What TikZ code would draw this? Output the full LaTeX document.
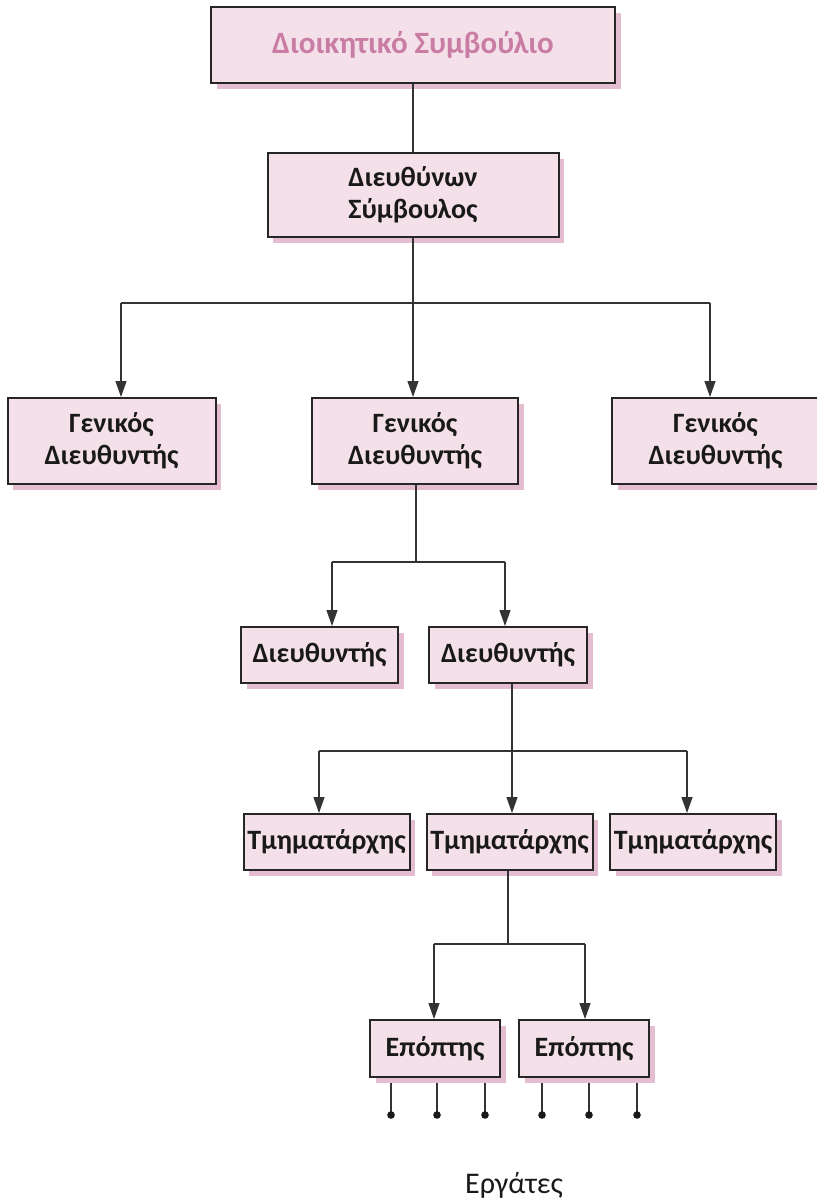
\documentclass[tikz,border=0pt]{standalone}
\usepackage{fontspec}
\setmainfont{Carlito}
\usetikzlibrary{arrows.meta,shadows}
\definecolor{boxfill}{HTML}{F4E0E9}
\definecolor{boxshadow}{HTML}{E5BDD0}
\definecolor{titlepink}{HTML}{C97DA4}
\definecolor{linegray}{HTML}{333333}

\begin{document}
\begin{tikzpicture}[
x=0.5pt,y=-0.5pt,
box/.style={draw=black!85,line width=1pt,fill=boxfill,inner sep=0pt,align=center,
  text=black!90,font=\bfseries\fontsize{14}{16}\selectfont,
  drop shadow={shadow xshift=2.8pt,shadow yshift=-2.8pt,fill=boxshadow,opacity=1}},
link/.style={draw=linegray,line width=0.6pt},
arr/.style={link,-{Triangle[length=8pt,width=5.5pt]}},
]
\useasboundingbox (0,0) rectangle (816,1203);

% top of the chart
\node[box,minimum width=202pt,minimum height=38pt,text=titlepink,
  font=\bfseries\fontsize{15.5}{18}\selectfont] (bd) at (413,45) {Διοικητικό Συμβούλιο};
\node[box,minimum width=145.5pt,minimum height=42pt] (ceo) at (413,195) {Διευθύνων\\Σύμβουλος};

% general managers
\node[box,minimum width=104pt,minimum height=43pt] (gm1) at (111.5,441) {Γενικός\\Διευθυντής};
\node[box,minimum width=103pt,minimum height=43pt] (gm2) at (415,441) {Γενικός\\Διευθυντής};
\node[box,minimum width=103.5pt,minimum height=43pt] (gm3) at (715.5,441) {Γενικός\\Διευθυντής};

% managers
\node[box,minimum width=78.5pt,minimum height=28pt] (dr1) at (319.5,655) {Διευθυντής};
\node[box,minimum width=79pt,minimum height=28pt] (dr2) at (508,655) {Διευθυντής};

% heads of department
\node[box,minimum width=83pt,minimum height=28pt] (tm1) at (326.5,842) {Τμηματάρχης};
\node[box,minimum width=83pt,minimum height=28pt] (tm2) at (509.5,842) {Τμηματάρχης};
\node[box,minimum width=83pt,minimum height=28pt] (tm3) at (693,842) {Τμηματάρχης};

% supervisors
\node[box,minimum width=65pt,minimum height=28.5pt] (ep1) at (435,1048.5) {Επόπτης};
\node[box,minimum width=65pt,minimum height=28.5pt] (ep2) at (584,1048.5) {Επόπτης};

\node[anchor=base,text=black!90,font=\fontsize{15}{18}\selectfont] (wk) at (514,1193) {Εργάτες};

% bus points
\coordinate (b1) at (413,303);
\coordinate (g1) at (121,303);
\coordinate (g3) at (710,303);
\coordinate (b2) at (416,562);
\coordinate (d1) at (332,562);
\coordinate (d2) at (505,562);
\coordinate (b3) at (512,751);
\coordinate (t1) at (319,751);
\coordinate (t3) at (687,751);
\coordinate (b4) at (508,944);
\coordinate (e1) at (434,944);
\coordinate (e2) at (585,944);

\draw[link] (bd) -- (ceo);
\draw[link] (ceo) -- (b1);
\draw[link] (g1) -- (g3);
\draw[arr] (g1) -- (g1 |- gm1.north);
\draw[arr] (b1) -- (b1 |- gm2.north);
\draw[arr] (g3) -- (g3 |- gm3.north);

\draw[link] (gm2.south -| b2) -- (b2);
\draw[link] (d1) -- (d2);
\draw[arr] (d1) -- (d1 |- dr1.north);
\draw[arr] (d2) -- (d2 |- dr2.north);

\draw[link] (dr2.south -| b3) -- (b3);
\draw[link] (t1) -- (t3);
\draw[arr] (t1) -- (t1 |- tm1.north);
\draw[arr] (b3) -- (b3 |- tm2.north);
\draw[arr] (t3) -- (t3 |- tm3.north);

\draw[link] (tm2.south -| b4) -- (b4);
\draw[link] (e1) -- (e2);
\draw[arr] (e1) -- (e1 |- ep1.north);
\draw[arr] (e2) -- (e2 |- ep2.north);

% workers
\foreach \i/\wx in {1/391,2/437,3/485,4/542,5/589,6/637}{
  \coordinate (wt\i) at (\wx,1083);
  \coordinate (w\i) at (\wx,1115);
  \draw[link] (wt\i) -- (w\i);
  \fill[black!90] (w\i) circle (1.9pt);
}

\end{tikzpicture}
\end{document}
